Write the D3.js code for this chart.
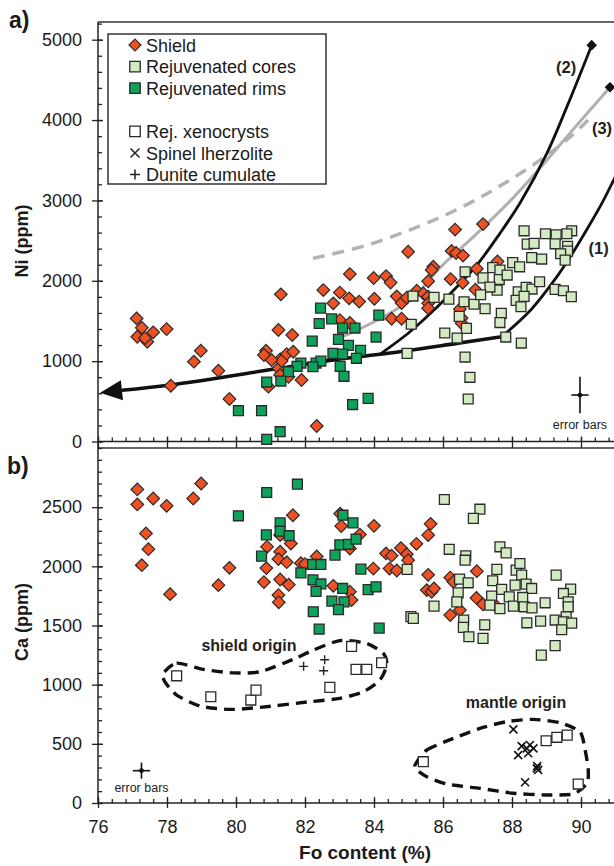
<!DOCTYPE html>
<html><head><meta charset="utf-8">
<script src="https://cdn.jsdelivr.net/npm/d3@7"></script>
<style>body{margin:0;background:#fff}svg{display:block}text{font-family:Arial,"Liberation Sans",sans-serif}</style>
</head><body><svg id="c" width="614" height="866"></svg>
<script>
// ---------- DATA ----------
const xTicks = [76,78,80,82,84,86,88,90];
const niTicks = [0,1000,2000,3000,4000,5000];
const caTicks = [0,500,1000,1500,2000,2500];

const shieldNi = [[77.12,1532],[77.27,1415],[77.14,1303],[77.43,1241],[77.60,1358],[77.99,1399],[77.36,1287],[78.98,1129],[78.78,993],[79.49,881],[78.11,694],[79.81,529],[81.30,1831],[81.23,1387],[81.63,1325],[80.87,1129],[80.81,1076],[81.28,1022],[81.47,1088],[81.66,1117],[81.23,910],[81.28,827],[81.52,806],[80.94,682],[81.90,765],[82.34,193],[82.53,1884],[82.82,1719],[83.01,1853],[83.30,2083],[83.28,1781],[83.57,1741],[83.01,1511],[83.30,1474],[83.99,2034],[84.35,2058],[84.48,1978],[84.01,1776],[84.66,1806],[84.80,1723],[84.95,1789],[84.51,1527],[84.80,1527],[84.99,2361],[85.24,1876],[85.43,1843],[85.57,1801],[85.57,1719],[85.57,1657],[86.35,2637],[87.16,2705],[86.25,2372],[86.38,2345],[86.58,2313],[85.72,2174],[85.67,2133],[85.57,1994],[86.22,2021],[86.57,1975],[86.98,2149],[87.58,2241],[86.94,1889],[86.49,1648],[86.54,1536],[86.54,1470],[81.32,1001],[81.03,1014]];
const coresNi = [[88.35,2622],[88.97,2585],[89.28,2572],[89.73,2622],[89.59,2585],[88.44,2456],[88.64,2465],[89.25,2460],[89.61,2428],[89.61,2369],[89.41,2336],[89.54,2257],[88.57,2289],[88.86,2270],[88.02,2226],[88.22,2174],[87.44,2164],[87.65,2133],[86.64,2112],[87.16,2036],[87.63,2015],[87.86,2071],[87.57,1884],[87.36,1922],[88.18,1863],[88.12,1756],[88.41,1918],[88.58,1897],[88.80,1988],[88.35,1806],[88.26,1677],[89.25,1893],[89.49,1876],[89.72,1801],[85.74,1794],[86.17,1772],[86.61,1739],[86.90,1708],[87.09,1826],[87.22,1652],[87.69,1594],[87.65,1480],[85.13,1810],[85.08,1459],[86.47,1557],[86.68,1408],[86.05,1350],[86.41,1287],[87.82,1300],[88.27,1225],[84.96,1097],[86.64,1051],[86.78,799],[86.73,529]];
const rimsNi = [[82.45,1660],[82.41,1468],[82.77,1526],[83.09,1412],[83.45,1412],[84.14,1573],[84.06,1300],[82.21,1250],[82.97,1271],[83.26,1196],[83.61,1134],[82.81,1097],[83.09,1088],[83.49,1035],[83.02,935],[83.13,811],[81.88,976],[81.77,935],[81.52,868],[82.32,976],[82.46,1001],[82.23,930],[80.89,740],[81.30,752],[80.07,383],[80.74,383],[81.28,122],[80.89,27],[83.38,460],[83.83,537]];

const shieldCa = [[77.14,2650],[77.14,2523],[77.60,2573],[77.99,2511],[78.76,2573],[78.99,2700],[77.39,2278],[77.46,2145],[77.27,2010],[78.09,1765],[79.81,1987],[79.49,1841],[81.65,2432],[80.90,2165],[81.59,2193],[81.28,2264],[81.28,2123],[81.23,2061],[81.47,2035],[80.88,1985],[80.81,1867],[81.28,1889],[81.53,1844],[81.23,1757],[81.24,1696],[81.88,2027],[82.34,2084],[82.82,1835],[83.02,2445],[83.05,2340],[83.30,2151],[83.30,1785],[83.35,1715],[84.00,2342],[83.59,2268],[83.98,1981],[84.35,2109],[84.51,2090],[84.78,2154],[84.95,2103],[84.99,2052],[85.23,2190],[84.45,1981],[84.66,1965],[85.64,2359],[85.57,2264],[85.57,1928],[85.53,1799],[85.67,1785],[85.74,1813],[86.21,1905],[86.30,1869],[86.21,1588],[86.49,1630],[86.98,1959],[86.97,1733],[87.16,1679],[87.56,1658],[82.00,2019]];
const coresCa = [[86.04,2565],[87.07,2483],[86.88,2405],[86.18,2144],[86.66,2088],[86.64,2052],[87.65,2165],[87.83,2114],[89.28,1926],[87.56,1974],[87.44,1878],[86.48,1892],[86.73,1861],[88.12,1968],[88.28,1926],[88.23,2024],[88.09,1841],[88.41,1850],[88.57,1813],[87.70,1805],[87.92,1742],[86.44,1776],[86.40,1700],[87.41,1748],[87.36,1672],[87.65,1643],[88.04,1664],[88.31,1737],[88.35,1658],[88.58,1649],[88.96,1692],[89.70,1807],[89.49,1771],[89.63,1700],[89.63,1658],[89.57,1573],[85.74,1664],[86.60,1546],[86.59,1484],[86.75,1405],[87.21,1506],[87.16,1391],[88.43,1523],[88.83,1537],[89.25,1546],[89.49,1531],[89.73,1520],[89.44,1464],[89.25,1330],[88.85,1250],[84.96,1974],[85.07,1575],[85.14,1560]];
const rimsCa = [[80.89,2624],[81.78,2694],[80.07,2427],[81.28,2367],[81.28,2297],[80.88,2266],[81.54,2259],[80.74,2086],[82.22,2016],[82.46,2016],[81.88,1945],[82.23,1886],[82.46,1851],[82.32,1788],[83.10,2432],[83.39,2367],[83.01,2182],[83.26,2186],[83.48,2230],[82.87,2095],[83.09,1813],[82.78,1706],[83.13,1700],[82.97,1634],[82.24,1616],[82.41,1470],[83.62,1976],[83.83,1803],[84.06,1827],[84.15,1478]];
const xenoCa = [[78.28,1075],[79.27,898],[80.43,870],[80.58,954],[82.72,977],[83.35,1323],[83.48,1129],[83.79,1129],[84.22,1185],[85.43,349],[88.99,526],[89.30,555],[89.60,574],[89.92,160]];
const spinelCa = [[88.04,622],[88.28,481],[88.52,490],[88.62,462],[88.43,462],[88.18,405],[88.47,420],[88.73,313],[88.76,279],[88.72,293],[88.38,175]];
const duniteCa = [[81.96,1155],[82.57,1210],[82.54,1117]];

// model curves (Ni panel)
const mainLine = [[76.06,607],[78.09,703],[81.07,898],[82.92,1022],[84.17,1085],[86.40,1221],[87.70,1303]];
const curve1 = [[87.70,1303],[88.55,1640],[89.25,2020],[89.75,2340],[90.2,2660],[90.6,2960],[91.0,3300]];
const curve2 = [[84.17,1085],[85.0,1350],[85.7,1620],[86.3,1880],[86.98,2195],[87.65,2590],[88.25,2980],[89.01,3585],[89.59,4164],[90.31,4932]];
const curve3 = [[83.0,1290],[83.59,1400],[85.04,1760],[86.00,2200],[86.87,2543],[87.97,3004],[88.96,3476],[89.83,3912],[90.84,4409]];
const dashedCurve = [[82.23,2279],[83.80,2444],[85.25,2668],[86.49,2904],[87.65,3178],[88.81,3501],[89.68,3787],[90.26,4024]];
const curveEnds = [[90.31,4932],[90.84,4409]];
const curveLabels = [["(2)",89.57,4583],["(3)",90.61,3824],["(1)",90.51,2332]];

// outlines (Ca panel)
const shieldOutline = [[77.89,1095],[78.28,1182],[79.05,1129],[79.92,1100],[80.70,1109],[81.66,1214],[82.24,1292],[83.01,1372],[83.79,1349],[84.27,1264],[84.37,1166],[84.17,1039],[83.69,940],[83.01,884],[82.14,856],[80.70,808],[79.83,791],[78.96,819],[78.28,912],[77.94,1024]];
const mantleOutline = [[85.19,321],[85.53,448],[86.30,546],[87.07,631],[87.85,687],[88.62,707],[89.39,678],[89.97,602],[90.12,448],[90.21,279],[90.17,166],[89.78,76],[89.01,68],[88.04,82],[87.07,124],[86.11,160],[85.53,222],[85.24,279]];

// error bars [x, y, dx, dy]
const errNi = [89.97,578,0.25,228];
const errCa = [77.26,273,0.25,68];

const legendItems = [["diamond","Shield"],["core","Rejuvenated cores"],["rim","Rejuvenated rims"],[null,""],["xeno","Rej. xenocrysts"],["cross","Spinel lherzolite"],["plus","Dunite cumulate"]];

// ---------- STYLE ----------
const C = {shield:"#ef5123", core:"#d3eac3", rim:"#0fa25c", edge:"#2a2a2a"};

const svg = d3.select("#c");
const x = d3.scaleLinear().domain([76,91]).range([98,615.5]);
const yNi = d3.scaleLinear().domain([0,5220]).range([441.5,22]);
const yCa = d3.scaleLinear().domain([0,3000]).range([803,448]);

// frames
svg.append("line").attr("x1",98).attr("x2",614).attr("y1",yNi(5220)).attr("y2",yNi(5220)).attr("stroke","#333").attr("stroke-width",1.5);
svg.append("line").attr("x1",98).attr("x2",614).attr("y1",yCa(3000)).attr("y2",yCa(3000)).attr("stroke","#333").attr("stroke-width",1.5);
svg.append("line").attr("x1",98).attr("x2",614).attr("y1",yNi(0)).attr("y2",yNi(0)).attr("stroke","#222").attr("stroke-width",1.5);
svg.append("line").attr("x1",98).attr("x2",614).attr("y1",yCa(0)).attr("y2",yCa(0)).attr("stroke","#222").attr("stroke-width",1.5);
svg.append("line").attr("x1",98).attr("x2",98).attr("y1",yNi(5220)).attr("y2",yCa(0)).attr("stroke","#222").attr("stroke-width",1.5);

function styleAxis(g){g.select(".domain").remove();g.selectAll(".tick line").attr("stroke","#222").attr("stroke-width",1.3);g.selectAll("text").attr("font-size",18).attr("fill","#1a1a1a").attr("font-family","Arial, 'Liberation Sans', sans-serif");}
const minorX = d3.range(0,38).map(i=>76+i*0.4).filter(v=>v<=91.01);
const minorNi = d3.range(0,5201,200);
const minorCa = d3.range(0,3001,100);
const fmt = d3.format("d");

// y axes
[[yNi,niTicks,minorNi],[yCa,caTicks,minorCa]].forEach(([s,maj,min])=>{
  svg.append("g").attr("transform","translate(98,0)").call(d3.axisLeft(s).tickValues(maj).tickSize(6).tickPadding(10).tickFormat(fmt)).call(styleAxis);
  svg.append("g").attr("transform","translate(98,0)").call(d3.axisRight(s).tickValues(maj).tickSize(5).tickFormat("")).call(styleAxis);
  svg.append("g").attr("transform","translate(98,0)").call(d3.axisRight(s).tickValues(min).tickSize(4).tickFormat("")).call(styleAxis);
});
// x axes
svg.append("g").attr("transform",`translate(0,${yCa(0)})`).call(d3.axisBottom(x).tickValues(xTicks).tickSize(5).tickPadding(12).tickFormat(fmt)).call(styleAxis);
svg.append("g").attr("transform",`translate(0,${yCa(0)})`).call(d3.axisTop(x).tickValues(xTicks).tickSize(6).tickFormat("")).call(styleAxis);
svg.append("g").attr("transform",`translate(0,${yCa(0)})`).call(d3.axisTop(x).tickValues(minorX).tickSize(4).tickFormat("")).call(styleAxis);
svg.append("g").attr("transform",`translate(0,${yNi(0)})`).call(d3.axisTop(x).tickValues(xTicks).tickSize(5).tickFormat("")).call(styleAxis);
svg.append("g").attr("transform",`translate(0,${yNi(0)})`).call(d3.axisBottom(x).tickValues(xTicks).tickSize(yCa(3000)-yNi(0)).tickFormat("")).call(styleAxis);
svg.append("g").attr("transform",`translate(0,${yNi(0)})`).call(d3.axisTop(x).tickValues(minorX).tickSize(4).tickFormat("")).call(styleAxis);

// clip
svg.append("clipPath").attr("id","clipTop").append("rect").attr("x",98).attr("y",yNi(5220)).attr("width",520).attr("height",yNi(0)-yNi(5220));

// ---------- TOP PANEL CURVES ----------
const gc = svg.append("g").attr("clip-path","url(#clipTop)");
const lineNi = d3.line().x(d=>x(d[0])).y(d=>yNi(d[1])).curve(d3.curveCatmullRom);
gc.append("path").attr("d",lineNi(dashedCurve)).attr("fill","none").attr("stroke","#b3b3b3").attr("stroke-width",3.5).attr("stroke-dasharray","12,8");
gc.append("path").attr("d",lineNi(curve3)).attr("fill","none").attr("stroke","#b0b0b0").attr("stroke-width",3);
gc.append("path").attr("d",lineNi(curve2)).attr("fill","none").attr("stroke","#111").attr("stroke-width",2.8);
gc.append("path").attr("d",lineNi(curve1)).attr("fill","none").attr("stroke","#111").attr("stroke-width",2.8);
// main line with arrow
const p1=[x(mainLine[0][0]),yNi(mainLine[0][1])], p2=[x(mainLine[1][0]),yNi(mainLine[1][1])];
const L=Math.hypot(p2[0]-p1[0],p2[1]-p1[1]), u=[(p2[0]-p1[0])/L,(p2[1]-p1[1])/L], nrm=[-u[1],u[0]];
const base=[p1[0]+u[0]*22,p1[1]+u[1]*22];
const mainDraw=[[x.invert(base[0]),yNi.invert(base[1])]].concat(mainLine.slice(1));
gc.append("path").attr("d",lineNi(mainDraw)).attr("fill","none").attr("stroke","#111").attr("stroke-width",3.6);
gc.append("path").attr("d",`M${p1[0]},${p1[1]}L${base[0]+nrm[0]*10},${base[1]+nrm[1]*10}L${base[0]-nrm[0]*10},${base[1]-nrm[1]*10}Z`).attr("fill","#111");
gc.selectAll(null).data(curveEnds).join("path").attr("d",d3.symbol(d3.symbolSquare,56)).attr("fill","#111")
  .attr("transform",d=>`translate(${x(d[0])},${yNi(d[1])}) rotate(45)`);

// ---------- MARKERS ----------
function diamonds(g,data,ys){g.selectAll(null).data(data).join("path").attr("d",d3.symbol(d3.symbolSquare,80)).attr("fill",C.shield).attr("stroke",C.edge).attr("stroke-width",1.2).attr("transform",d=>`translate(${x(d[0])},${ys(d[1])}) rotate(45)`);}
function squares(g,data,ys,fill){g.selectAll(null).data(data).join("path").attr("d",d3.symbol(d3.symbolSquare,98)).attr("fill",fill).attr("stroke",C.edge).attr("stroke-width",1.3).attr("transform",d=>`translate(${x(d[0])},${ys(d[1])})`);}

const gp = svg.append("g");
diamonds(gp,shieldNi,yNi);
squares(gp,coresNi,yNi,C.core);
squares(gp,rimsNi,yNi,C.rim);

const gb = svg.append("g");
diamonds(gb,shieldCa,yCa);
squares(gb,coresCa,yCa,C.core);
squares(gb,rimsCa,yCa,C.rim);

// outlines
const lineCa = d3.line().x(d=>x(d[0])).y(d=>yCa(d[1])).curve(d3.curveCardinalClosed.tension(0.3));
[shieldOutline,mantleOutline].forEach(o=>{
  gb.append("path").attr("d",lineCa(o)).attr("fill","none").attr("stroke","#111").attr("stroke-width",3.4).attr("stroke-dasharray","11,7");
});
squares(gb,xenoCa,yCa,"#fff");
gb.selectAll(null).data(spinelCa).join("path").attr("d",d=>{const cx=x(d[0]),cy=yCa(d[1]),r=4;return `M${cx-r},${cy-r}L${cx+r},${cy+r}M${cx-r},${cy+r}L${cx+r},${cy-r}`;}).attr("stroke","#111").attr("stroke-width",1.6);
gb.selectAll(null).data(duniteCa).join("path").attr("d",d=>{const cx=x(d[0]),cy=yCa(d[1]),r=4.5;return `M${cx-r},${cy}L${cx+r},${cy}M${cx},${cy-r}L${cx},${cy+r}`;}).attr("stroke","#222").attr("stroke-width",1.4);

// error bars
[[errNi,yNi],[errCa,yCa]].forEach(([e,ys])=>{
  const g=svg.append("g").attr("stroke","#111").attr("stroke-width",1.6);
  g.append("line").attr("x1",x(e[0]-e[2])).attr("x2",x(e[0]+e[2])).attr("y1",ys(e[1])).attr("y2",ys(e[1]));
  g.append("line").attr("x1",x(e[0])).attr("x2",x(e[0])).attr("y1",ys(e[1]-e[3])).attr("y2",ys(e[1]+e[3]));
  svg.append("circle").attr("cx",x(e[0])).attr("cy",ys(e[1])).attr("r",2.4).attr("fill","#111");
});
svg.append("text").attr("x",x(errNi[0])).attr("y",yNi(errNi[1]-errNi[3])+16).attr("text-anchor","middle").attr("font-size",12.5).attr("fill","#222").text("error bars");
svg.append("text").attr("x",x(errCa[0])).attr("y",yCa(errCa[1]-errCa[3])+13).attr("text-anchor","middle").attr("font-size",12.5).attr("fill","#222").text("error bars");

// curve labels
svg.selectAll(null).data(curveLabels).join("text").attr("x",d=>x(d[1])).attr("y",d=>yNi(d[2])).attr("font-size",16.5).attr("font-weight","bold").attr("fill","#222").attr("text-anchor","middle").text(d=>d[0]);

// outline labels
svg.append("text").attr("x",249).attr("y",651).attr("text-anchor","middle").attr("font-size",16).attr("font-weight","bold").attr("fill","#222").text("shield origin");
svg.append("text").attr("x",516).attr("y",708).attr("text-anchor","middle").attr("font-size",16).attr("font-weight","bold").attr("fill","#222").text("mantle origin");

// legend
const lg = svg.append("g");
lg.append("rect").attr("x",108).attr("y",34).attr("width",218).attr("height",150).attr("fill","#fff").attr("stroke","#333").attr("stroke-width",1.5);
legendItems.forEach((it,i)=>{
  const cy = 45 + i*21.6, cx = 135;
  if(!it[0]) return;
  const t=it[0];
  if(t==="diamond") lg.append("path").attr("d",d3.symbol(d3.symbolSquare,72)).attr("transform",`translate(${cx},${cy}) rotate(45)`).attr("fill",C.shield).attr("stroke",C.edge).attr("stroke-width",1.2);
  else if(t==="core"||t==="rim"||t==="xeno") lg.append("path").attr("d",d3.symbol(d3.symbolSquare,110)).attr("transform",`translate(${cx},${cy})`).attr("fill",t==="core"?C.core:t==="rim"?C.rim:"#fff").attr("stroke",C.edge).attr("stroke-width",1.3);
  else if(t==="cross") lg.append("path").attr("d",`M${cx-4.5},${cy-4.5}L${cx+4.5},${cy+4.5}M${cx-4.5},${cy+4.5}L${cx+4.5},${cy-4.5}`).attr("stroke","#222").attr("stroke-width",1.5);
  else if(t==="plus") lg.append("path").attr("d",`M${cx-5},${cy}L${cx+5},${cy}M${cx},${cy-5}L${cx},${cy+5}`).attr("stroke","#222").attr("stroke-width",1.5);
  lg.append("text").attr("x",146).attr("y",cy+6.5).attr("font-size",18).attr("fill","#1a1a1a").text(it[1]);
});

// axis titles & panel letters
svg.append("text").attr("transform","translate(28,241) rotate(-90)").attr("text-anchor","middle").attr("font-size",18).attr("font-weight","bold").attr("fill","#1a1a1a").text("Ni (ppm)");
svg.append("text").attr("transform","translate(28,622) rotate(-90)").attr("text-anchor","middle").attr("font-size",18).attr("font-weight","bold").attr("fill","#1a1a1a").text("Ca (ppm)");
svg.append("text").attr("x",365).attr("y",859).attr("text-anchor","middle").attr("font-size",19).attr("font-weight","bold").attr("fill","#1a1a1a").text("Fo content (%)");
svg.append("text").attr("x",9).attr("y",28).attr("font-size",23).attr("font-weight","bold").attr("fill","#1a1a1a").text("a)");
svg.append("text").attr("x",7).attr("y",474).attr("font-size",23).attr("font-weight","bold").attr("fill","#1a1a1a").text("b)");
</script></body></html>
